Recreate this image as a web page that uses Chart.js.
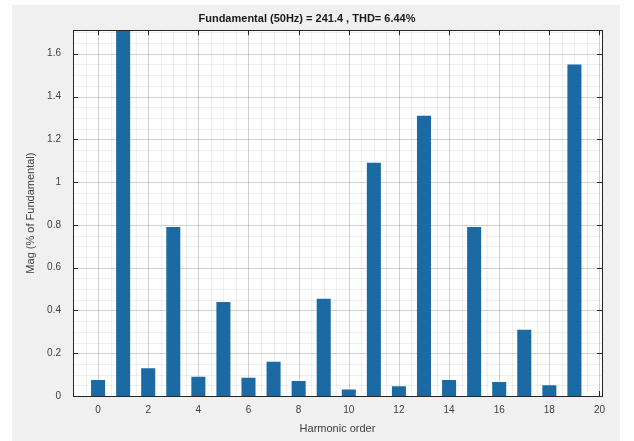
<!DOCTYPE html>
<html><head><meta charset="utf-8">
<script src="https://cdn.jsdelivr.net/npm/chart.js@4/dist/chart.umd.min.js"></script>
<style>
html,body{margin:0;padding:0;background:#fff;}
#wrap{position:absolute;left:12px;top:5px;width:608px;height:436px;background:#f0f0f0;}
canvas{position:absolute;left:0;top:0;}
</style></head><body>
<div id="wrap"><canvas id="c" width="608" height="436"></canvas></div>
<script>
const harmonicOrder = [0,1,2,3,4,5,6,7,8,9,10,11,12,13,14,15,16,17,18,19];
const magnitude = [0.075,1.75,0.13,0.79,0.09,0.44,0.085,0.16,0.07,0.455,0.03,1.09,0.045,1.31,0.075,0.79,0.065,0.31,0.05,1.55];
const xTickLabels = [0,2,4,6,8,10,12,14,16,18,20];
const yTickLabels = [0,0.2,0.4,0.6,0.8,1,1.2,1.4,1.6];
const titleText = 'Fundamental (50Hz) = 241.4 , THD= 6.44%';
const xTitle = 'Harmonic order';
const yTitle = 'Mag (% of Fundamental)';

const X_MIN=-1, X_MAX=20.1, Y_MIN=0, Y_MAX=1.71;
const X_MINOR=0.5, Y_MINOR=0.05;

const bgPlugin = {
  id:'bg',
  beforeDatasetsDraw(chart){
    const {ctx, chartArea:a, scales} = chart;
    ctx.save();
    ctx.fillStyle='#ffffff';
    ctx.fillRect(a.left,a.top,a.right-a.left,a.bottom-a.top);
    ctx.strokeStyle='rgba(0,0,0,0.06)';
    ctx.lineWidth=1;
    ctx.beginPath();
    for(let v=Math.ceil(X_MIN/X_MINOR)*X_MINOR; v<=X_MAX+1e-9; v+=X_MINOR){
      const p=Math.round(scales.x.getPixelForValue(v))+0.5;
      ctx.moveTo(p,a.top); ctx.lineTo(p,a.bottom);
    }
    for(let v=Y_MIN; v<=Y_MAX+1e-9; v+=Y_MINOR){
      const p=Math.round(scales.y.getPixelForValue(v))+0.5;
      ctx.moveTo(a.left,p); ctx.lineTo(a.right,p);
    }
    ctx.stroke();
    ctx.strokeStyle='rgba(0,0,0,0.13)';
    ctx.beginPath();
    xTickLabels.forEach(v=>{const p=Math.round(scales.x.getPixelForValue(v))+0.5; ctx.moveTo(p,a.top); ctx.lineTo(p,a.bottom);});
    yTickLabels.forEach(v=>{const p=Math.round(scales.y.getPixelForValue(v))+0.5; ctx.moveTo(a.left,p); ctx.lineTo(a.right,p);});
    ctx.stroke();
    ctx.strokeStyle='#262626';
    ctx.beginPath();
    xTickLabels.forEach(v=>{const p=Math.round(scales.x.getPixelForValue(v))+0.5;
      ctx.moveTo(p,a.bottom); ctx.lineTo(p,a.bottom-5); ctx.moveTo(p,a.top); ctx.lineTo(p,a.top+5);});
    yTickLabels.forEach(v=>{const p=Math.round(scales.y.getPixelForValue(v))+0.5;
      ctx.moveTo(a.left,p); ctx.lineTo(a.left+5,p); ctx.moveTo(a.right,p); ctx.lineTo(a.right-5,p);});
    ctx.stroke();
    ctx.restore();
  },
  afterDraw(chart){
    const {ctx, chartArea:a} = chart;
    ctx.save();
    ctx.strokeStyle='#262626';
    ctx.lineWidth=1;
    ctx.strokeRect(Math.round(a.left)+0.5,Math.round(a.top)+0.5,Math.round(a.right-a.left),Math.round(a.bottom-a.top));
    ctx.restore();
  }
};

new Chart(document.getElementById('c'),{
  type:'bar',
  data:{
    datasets:[{
      data: harmonicOrder.map((h,i)=>({x:h,y:magnitude[i]})),
      backgroundColor:'#1b6aa3',
      borderWidth:0,
      barPercentage:0.56,
      categoryPercentage:1.0
    }]
  },
  options:{
    responsive:false,
    animation:false,
    layout:{padding:{left:0,right:18,top:0,bottom:0}},
    plugins:{
      legend:{display:false},
      tooltip:{enabled:false},
      title:{display:true,text:titleText,color:'#1a1a1a',
        font:{family:'Liberation Sans, Arial, sans-serif',size:11,weight:'bold'},
        padding:{top:7,bottom:5}}
    },
    scales:{
      x:{
        type:'linear', min:X_MIN, max:X_MAX, offset:false,
        afterBuildTicks(s){ s.ticks = xTickLabels.map(v=>({value:v})); },
        afterFit(s){ s.height=45; },
        grid:{display:false, drawTicks:false},
        border:{display:false},
        ticks:{color:'#404040', font:{family:'Liberation Sans, Arial, sans-serif',size:10}, padding:8, maxRotation:0,
          callback:v=>String(v)},
        title:{display:true,text:xTitle,color:'#404040',font:{family:'Liberation Sans, Arial, sans-serif',size:11},padding:{top:0,bottom:5}}
      },
      y:{
        min:Y_MIN, max:Y_MAX,
        afterBuildTicks(s){ s.ticks = yTickLabels.map(v=>({value:v})); },
        afterFit(s){ s.width=61; },
        grid:{display:false, drawTicks:false},
        border:{display:false},
        ticks:{color:'#404040', font:{family:'Liberation Sans, Arial, sans-serif',size:10}, padding:12,
          callback:v=>String(v)},
        title:{display:true,text:yTitle,color:'#404040',font:{family:'Liberation Sans, Arial, sans-serif',size:11},padding:{top:12,bottom:0}}
      }
    }
  },
  plugins:[bgPlugin]
});
</script>
</body></html>
